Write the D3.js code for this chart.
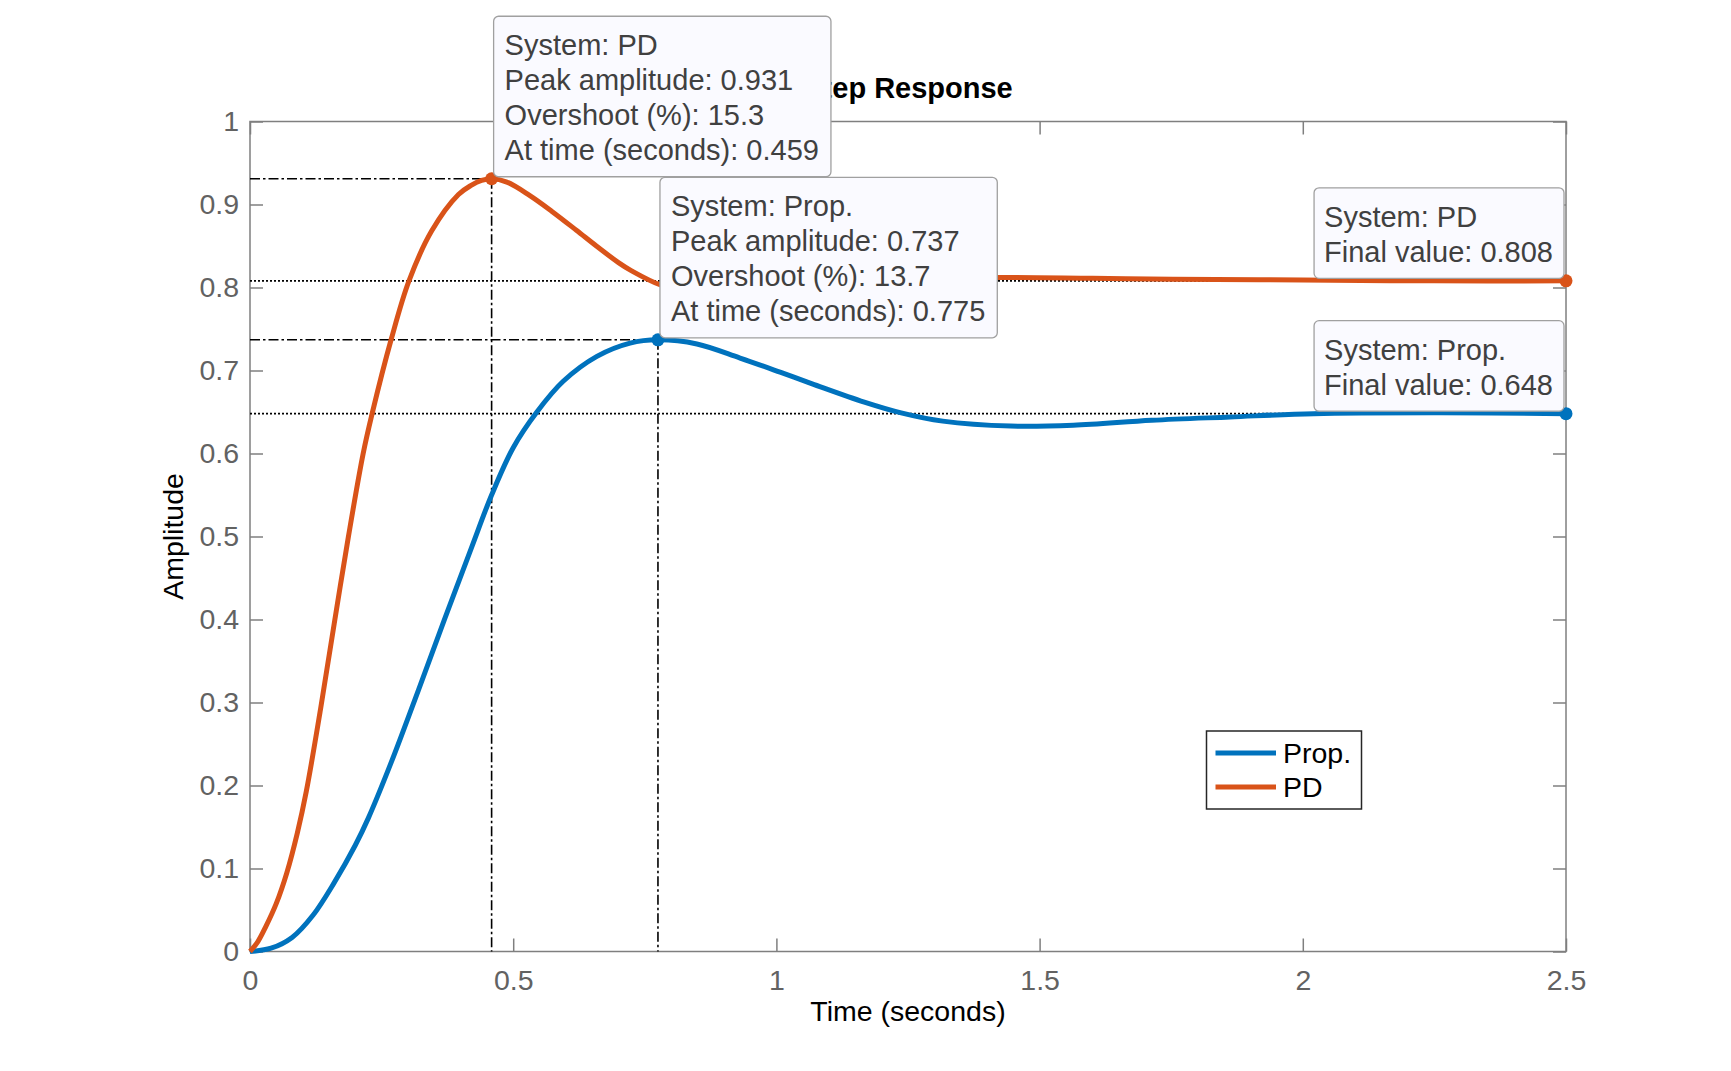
<!DOCTYPE html>
<html>
<head>
<meta charset="utf-8">
<script src="https://cdn.jsdelivr.net/npm/d3@7"></script>
<style>
  body { margin: 0; background: #fff; }
  svg { display: block; font-family: "Liberation Sans", Arial, sans-serif; }
</style>
</head>
<body>
<svg id="chart" width="1731" height="1071"></svg>
<script>
// ---- data ----
const propT = [0, 0.04, 0.08, 0.12, 0.16, 0.20, 0.225, 0.269, 0.320, 0.370, 0.421, 0.459, 0.500, 0.545, 0.595, 0.659, 0.722, 0.775, 0.849, 0.931, 1.007, 1.068, 1.167, 1.237, 1.316, 1.445, 1.564, 1.713, 1.862, 2.021, 2.26, 2.5];
const propA = [0, 0.004, 0.017, 0.044, 0.083, 0.128, 0.161, 0.229, 0.315, 0.401, 0.487, 0.550, 0.607, 0.650, 0.687, 0.717, 0.733, 0.737, 0.732, 0.715, 0.698, 0.684, 0.662, 0.649, 0.639, 0.633, 0.634, 0.640, 0.644, 0.648, 0.649, 0.648];

const pdT = [0, 0.015, 0.03, 0.05, 0.07, 0.09, 0.107, 0.134, 0.16, 0.187, 0.215, 0.232, 0.268, 0.302, 0.345, 0.396, 0.42, 0.44, 0.459, 0.488, 0.531, 0.573, 0.62, 0.658, 0.7, 0.725, 0.78, 0.85, 0.92, 1.0, 1.1, 1.2, 1.3, 1.417, 1.6, 1.753, 2.0, 2.25, 2.5];
const pdA = [0, 0.012, 0.030, 0.058, 0.095, 0.143, 0.193, 0.292, 0.395, 0.500, 0.600, 0.648, 0.737, 0.808, 0.868, 0.912, 0.923, 0.929, 0.931, 0.927, 0.911, 0.892, 0.869, 0.850, 0.830, 0.820, 0.803, 0.793, 0.790, 0.792, 0.800, 0.807, 0.811, 0.812, 0.811, 0.810, 0.809, 0.808, 0.808];

const xTicks = [0, 0.5, 1, 1.5, 2, 2.5];
const yTicks = [0, 0.1, 0.2, 0.3, 0.4, 0.5, 0.6, 0.7, 0.8, 0.9, 1];

const seriesNames = ["Prop.", "PD"];
const seriesColors = ["#0072BD", "#D95319"];

// characteristics shown in the data tips
const peakT = [0.775, 0.459];
const peakA = [0.737, 0.931];
const overshoot = [13.7, 15.3];
const finalA = [0.648, 0.808];

const svg = d3.select("#chart");
const plotL = 250, plotR = 1566, plotT = 121.5, plotB = 951.5;
const fontSize = 28.5;
const tipFont = 29;

const x = d3.scaleLinear().domain([0, 2.5]).range([plotL, plotR]);
const y = d3.scaleLinear().domain([0, 1]).range([plotB, plotT]);

svg.append("rect").attr("width", 1731).attr("height", 1071).attr("fill", "#fff");

// title (gets partly covered by the datatip, like the original)
svg.append("text")
  .attr("x", (plotL + plotR) / 2).attr("y", 98)
  .attr("text-anchor", "middle")
  .attr("font-size", 29).attr("font-weight", "bold").attr("fill", "#000")
  .text("Step Response");

// axes
const axisColor = "#7f7f7f";
const labelColor = "#626262";

function styleAxis(g, showText) {
  g.select(".domain").remove();
  g.selectAll(".tick line").attr("stroke", axisColor).attr("stroke-width", 1.5);
  g.selectAll(".tick text")
    .attr("fill", labelColor)
    .attr("font-size", fontSize)
    .attr("font-family", "Liberation Sans, Arial, sans-serif");
  if (!showText) g.selectAll(".tick text").remove();
}

svg.append("g").attr("transform", `translate(0,${plotB})`)
  .call(d3.axisBottom(x).tickValues(xTicks).tickFormat(d3.format("")).tickSizeInner(-13).tickSizeOuter(0).tickPadding(18))
  .call(g => styleAxis(g, true));
svg.append("g").attr("transform", `translate(0,${plotT})`)
  .call(d3.axisTop(x).tickValues(xTicks).tickSizeInner(-13).tickSizeOuter(0))
  .call(g => styleAxis(g, false));
svg.append("g").attr("transform", `translate(${plotL},0)`)
  .call(d3.axisLeft(y).tickValues(yTicks).tickFormat(d3.format("")).tickSizeInner(-13).tickSizeOuter(0).tickPadding(11))
  .call(g => styleAxis(g, true));
svg.append("g").attr("transform", `translate(${plotR},0)`)
  .call(d3.axisRight(y).tickValues(yTicks).tickSizeInner(-13).tickSizeOuter(0))
  .call(g => styleAxis(g, false));

svg.append("rect")
  .attr("x", plotL).attr("y", plotT)
  .attr("width", plotR - plotL).attr("height", plotB - plotT)
  .attr("fill", "none").attr("stroke", axisColor).attr("stroke-width", 1.5);

// axis labels
svg.append("text")
  .attr("x", (plotL + plotR) / 2).attr("y", 1021)
  .attr("text-anchor", "middle").attr("font-size", fontSize).attr("fill", "#000")
  .text("Time (seconds)");
svg.append("text")
  .attr("transform", `translate(183,${(plotT + plotB) / 2}) rotate(-90)`)
  .attr("text-anchor", "middle").attr("font-size", fontSize).attr("fill", "#000")
  .text("Amplitude");

// characteristic lines: final values (dotted), peaks (dash-dot)
const refs = svg.append("g").attr("stroke", "#000").attr("stroke-width", 1.6).attr("fill", "none");
finalA.forEach(v => {
  refs.append("line")
    .attr("x1", x(0)).attr("x2", x(2.5)).attr("y1", y(v)).attr("y2", y(v))
    .attr("stroke-dasharray", "2,2");
});
peakT.forEach((t, i) => {
  refs.append("line")
    .attr("x1", x(0)).attr("x2", x(t)).attr("y1", y(peakA[i])).attr("y2", y(peakA[i]))
    .attr("stroke-dasharray", "10,3,2.5,3");
  refs.append("line")
    .attr("x1", x(t)).attr("x2", x(t)).attr("y1", y(peakA[i])).attr("y2", y(0))
    .attr("stroke-dasharray", "10,3,2.5,3");
});

// response curves
const line = d3.line().x(d => x(d[0])).y(d => y(d[1])).curve(d3.curveCatmullRom.alpha(0.5));
const series = [d3.zip(propT, propA), d3.zip(pdT, pdA)];
series.forEach((s, i) => {
  svg.append("path").datum(s)
    .attr("d", line)
    .attr("fill", "none")
    .attr("stroke", seriesColors[i])
    .attr("stroke-width", 5)
    .attr("stroke-linejoin", "round");
});

// markers
seriesNames.forEach((n, i) => {
  svg.append("circle").attr("cx", x(peakT[i])).attr("cy", y(peakA[i])).attr("r", 6.5).attr("fill", seriesColors[i]);
  svg.append("circle").attr("cx", x(2.5)).attr("cy", y(finalA[i])).attr("r", 6.5).attr("fill", seriesColors[i]);
});

// legend
const lg = svg.append("g");
lg.append("rect")
  .attr("x", 1206.5).attr("y", 731).attr("width", 155).attr("height", 78)
  .attr("fill", "#fff").attr("stroke", "#262626").attr("stroke-width", 1.5);
seriesNames.forEach((n, i) => {
  const ly = 753 + i * 34;
  lg.append("line").attr("x1", 1215.5).attr("x2", 1276).attr("y1", ly).attr("y2", ly)
    .attr("stroke", seriesColors[i]).attr("stroke-width", 5);
  lg.append("text").attr("x", 1283).attr("y", ly + 10)
    .attr("font-size", fontSize).attr("fill", "#000").text(n);
});

// data tips
function dataTip(px, py, lines, anchorRight) {
  const g = svg.append("g");
  const box = g.append("rect");
  const texts = lines.map(s => g.append("text")
    .attr("font-size", tipFont).attr("fill", "#404040").text(s));
  const pad = anchorRight ? 10 : 11;
  const w = d3.max(texts, t => t.node().getComputedTextLength()) + 2 * pad + 1;
  const h = 39 + (lines.length - 1) * 35 + 16.5;
  const bx = anchorRight ? px - 2 - w : px + 2;
  const by = anchorRight ? py - 2.5 - h : py - 2 - h;
  box.attr("x", bx).attr("y", by).attr("width", w).attr("height", h)
    .attr("rx", 5).attr("fill", "#fafaff").attr("stroke", "#a0a0a0").attr("stroke-width", 1.3);
  texts.forEach((t, k) => t.attr("x", bx + pad).attr("y", by + 39 + k * 35));
}

[1, 0].forEach(i => {
  dataTip(x(peakT[i]), y(peakA[i]), [
    "System: " + seriesNames[i],
    "Peak amplitude: " + peakA[i].toFixed(3),
    "Overshoot (%): " + overshoot[i].toFixed(1),
    "At time (seconds): " + peakT[i].toFixed(3)
  ], false);
});
[1, 0].forEach(i => {
  dataTip(x(2.5), y(finalA[i]), [
    "System: " + seriesNames[i],
    "Final value: " + finalA[i].toFixed(3)
  ], true);
});
</script>
</body>
</html>
